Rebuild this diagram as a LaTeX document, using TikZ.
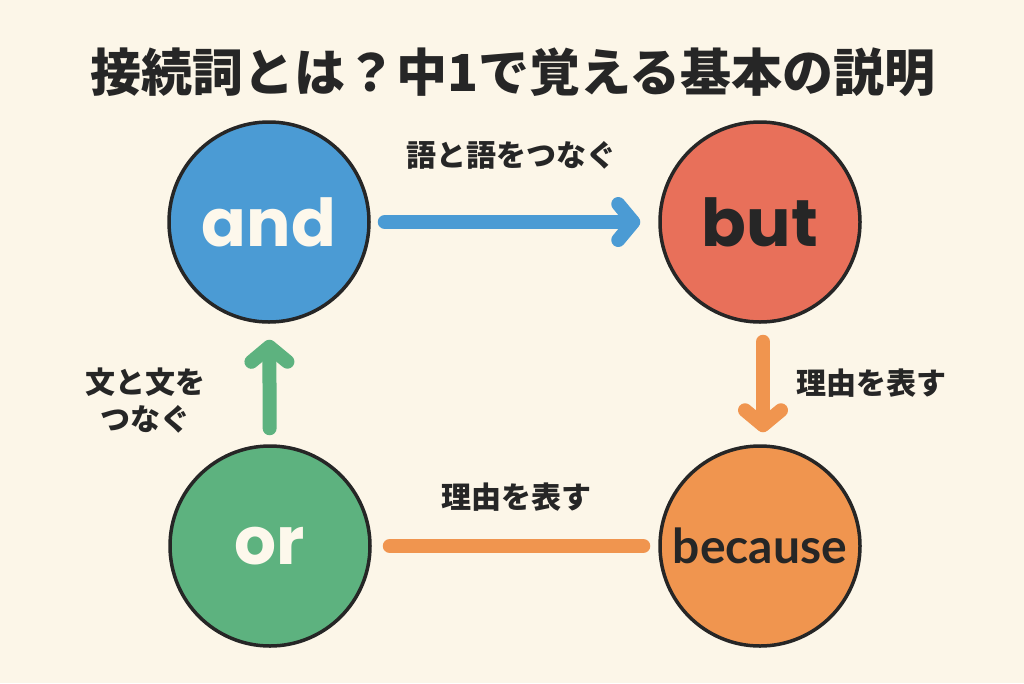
\documentclass[tikz,border=0pt]{standalone}
\usepackage{fontspec}
\usetikzlibrary{arrows.meta}
\newfontfamily\jpfont{Noto Sans CJK JP}
\newfontfamily\wordfont{Poppins}
\newfontfamily\becfont{Lato}
\definecolor{bg}{HTML}{FCF6E8}
\definecolor{ink}{HTML}{262626}
\definecolor{cream}{HTML}{FDF8EC}
\definecolor{cblue}{HTML}{4B9BD4}
\definecolor{cred}{HTML}{E8705A}
\definecolor{corange}{HTML}{F0954F}
\definecolor{cgreen}{HTML}{5DB27F}
\tikzset{
  bubble/.style={circle, draw=ink, line width=3.5pt, minimum size=200pt, inner sep=0pt},
  word/.style={font=\wordfont\bfseries\fontsize{66}{66}\selectfont},
  label/.style={font=\jpfont\bfseries\fontsize{30}{37}\selectfont, text=ink, align=center, inner sep=0pt},
  conn/.style={line width=14pt, line cap=round},
  tip/.style={-{Straight Barb[round, length=15pt, width=36pt]}}
}
\begin{document}
\begin{tikzpicture}[x=1pt,y=-1pt]
\fill[bg] (0,0) rectangle (1024,683);
\useasboundingbox (0,0) rectangle (1024,683);
\node[font=\jpfont\bfseries\fontsize{51}{51}\selectfont, text=ink, inner sep=0pt] (title) at (513,72) {接続詞とは？中1で覚える基本の説明};

\node[bubble, fill=cblue, word, text=cream] (and) at (269,222) {and};
\node[bubble, fill=cred, word, text=ink] (but) at (760,222) {but};
\node[bubble, fill=corange, text=ink, font=\becfont\bfseries\fontsize{48}{48}\selectfont] (because) at (760,546) {because};
\node[bubble, fill=cgreen, word, text=cream] (or) at (270,546) {or};

\draw[conn, tip, cblue, shorten <=14pt, shorten >=18pt] (and) -- (but);
\draw[conn, tip, corange, shorten <=18pt, shorten >=12pt] ([xshift=3pt]but.south) -- ([xshift=3pt]because.north);
\draw[conn, corange, shorten <=15pt, shorten >=18pt] (because) -- (or);
\draw[conn, tip, cgreen, shorten <=16pt, shorten >=16pt] (or) -- (and);

\node[label] (l1) at (511,155) {語と語をつなぐ};
\node[label] (l2) at (871,383) {理由を表す};
\node[label] (l3) at (516,497) {理由を表す};
\node[label] (l4) at (145,401) {文と文を\\つなぐ};
\end{tikzpicture}
\end{document}
